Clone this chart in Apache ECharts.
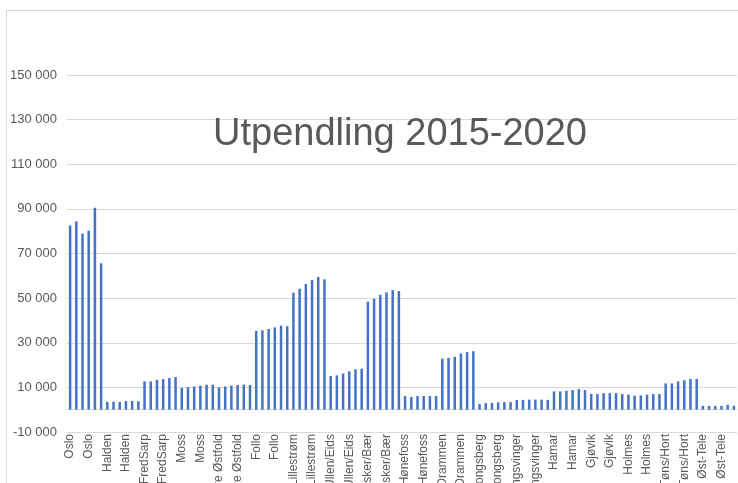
<!DOCTYPE html>
<html>
<head>
<meta charset="utf-8">
<script src="https://cdn.jsdelivr.net/npm/echarts@6/dist/echarts.min.js"></script>
<style>
  html, body { margin: 0; padding: 0; background: #fff; }
  #main { width: 738px; height: 483px; }
</style>
</head>
<body>
<div id="main"></div>
<script>
// regioner og år
var regions = ["Oslo", "Halden", "FredSarp", "Moss", "Indre Østfold", "Follo", "Lillestrøm", "Ullen/Eids",
  "Asker/Bær", "Hønefoss", "Drammen", "Kongsberg", "Kongsvinger", "Hamar", "Gjøvik", "Holmes", "Tøns/Hort", "Øst-Tele"];
var years = [2015, 2016, 2017, 2018, 2019, 2020];

// utpendling per region, 2015-2020
var oslo = [82600, 84400, 78900, 80200, 90500, 65600];
var halden = [3500, 3600, 3500, 3900, 3900, 3800];
var fredSarp = [12700, 12700, 13400, 13700, 14200, 14600];
var moss = [9800, 10100, 10400, 10800, 11200, 11200];
var indreOstfold = [10000, 10400, 10800, 11100, 11200, 11100];
var follo = [35300, 35600, 36200, 36900, 37700, 37400];
var lillestrom = [52400, 54200, 56300, 58100, 59500, 58400];
var ullenEids = [15100, 15400, 16200, 17200, 18100, 18400];
var askerBaer = [48400, 49700, 51500, 52600, 53600, 53200];
var honefoss = [6100, 5700, 6100, 6100, 6100, 6100];
var drammen = [22900, 23200, 23700, 25200, 25800, 26200];
var kongsberg = [2500, 2900, 3000, 3300, 3400, 3400];
var kongsvinger = [4300, 4400, 4500, 4500, 4500, 4400];
var hamar = [8200, 8200, 8500, 8800, 9200, 8800];
var gjovik = [7000, 7000, 7400, 7400, 7400, 7000];
var holmes = [6800, 6300, 6400, 6700, 7000, 7000];
var tonsHort = [11800, 11800, 12700, 13200, 13800, 13800];
var ostTele = [1700, 1700, 1700, 1700, 2200, 1800];

var valuesByRegion = [oslo, halden, fredSarp, moss, indreOstfold, follo, lillestrom, ullenEids,
  askerBaer, honefoss, drammen, kongsberg, kongsvinger, hamar, gjovik, holmes, tonsHort, ostTele];

// bygg kategorier og verdier
var categories = [];
var values = [];
regions.forEach(function (r, i) {
  years.forEach(function (y, j) {
    categories.push(r + "|" + y);
    values.push(valuesByRegion[i][j]);
  });
});

var textColor = "#595959";
var font = "Liberation Sans, Arial, sans-serif";

var option = {
  animation: false,
  backgroundColor: "#fff",
  textStyle: { fontFamily: font },
  title: {
    text: "Utpendling 2015-2020",
    left: 213,
    top: 116,
    padding: 0,
    textStyle: { color: textColor, fontSize: 38, fontWeight: "normal", fontFamily: font }
  },
  // ramme rundt diagrammet
  graphic: [{
    type: "rect",
    shape: { x: 6.5, y: 10.5, width: 740, height: 480 },
    style: { fill: null, stroke: "#d9d9d9", lineWidth: 1 },
    silent: true
  }],
  grid: {
    left: 67,
    right: 1,
    top: 75,
    bottom: 51,
    outerBoundsMode: "none",
    containLabel: false
  },
  xAxis: {
    type: "category",
    data: categories,
    axisLine: { show: true, onZero: true, lineStyle: { color: "#d9d9d9" } },
    axisTick: { show: false },
    axisLabel: {
      interval: 2,
      rotate: 90,
      margin: 2,
      color: textColor,
      fontSize: 12,
      fontFamily: font,
      width: 120,
      overflow: "none",
      formatter: function (v) { return v.split("|")[0]; }
    }
  },
  yAxis: {
    type: "value",
    min: -10000,
    max: 150000,
    interval: 20000,
    axisLine: { show: false },
    axisTick: { show: false },
    splitLine: { lineStyle: { color: "#d9d9d9" } },
    axisLabel: {
      margin: 10,
      color: textColor,
      fontSize: 13,
      fontFamily: font,
      formatter: function (v) {
        var s = String(Math.abs(v)).replace(/\B(?=(\d{3})+(?!\d))/g, " ");
        return (v < 0 ? "-" : "") + s;
      }
    }
  },
  series: [{
    type: "bar",
    data: values,
    barWidth: 2.5,
    itemStyle: { color: "#4472C4" }
  }]
};

var myChart = echarts.init(document.getElementById("main"));
myChart.setOption(option);
</script>
</body>
</html>
